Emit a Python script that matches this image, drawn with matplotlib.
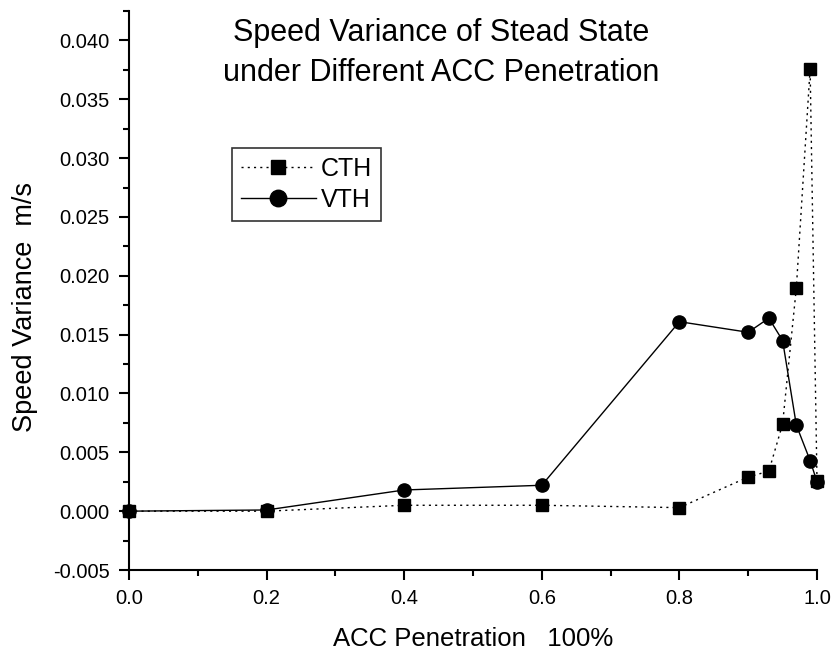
import numpy as np
import matplotlib.pyplot as plt
from matplotlib.ticker import MultipleLocator, FormatStrFormatter

plt.rcParams['font.family'] = ['Liberation Sans', 'DejaVu Sans']

# data
penetration = [0.0, 0.2, 0.4, 0.6, 0.8, 0.9, 0.93, 0.95, 0.97, 0.99, 1.0]
cth = [0.0, 0.0, 0.0005, 0.0005, 0.0003, 0.0029, 0.0034, 0.0074, 0.0190, 0.0376, 0.0026]
vth = [0.0, 0.0001, 0.0018, 0.0022, 0.0161, 0.0152, 0.0164, 0.0145, 0.0073, 0.0043, 0.0025]

fig = plt.figure(figsize=(8.37, 6.53), dpi=100)
ax = fig.add_axes([129/837, 1 - 570/653, (817 - 129)/837, (570 - 11)/653])

ax.plot(penetration, cth, color='black', linestyle=(0, (1.5, 3)), linewidth=1,
        marker='s', markersize=8, label='CTH', clip_on=False)
ax.plot(penetration, vth, color='black', linestyle='-', linewidth=1,
        marker='o', markersize=9.5, label='VTH', clip_on=False)

ax.set_xlim(0, 1.0)
ax.set_ylim(-0.005, 0.0425)

ax.xaxis.set_major_locator(MultipleLocator(0.2))
ax.xaxis.set_minor_locator(MultipleLocator(0.1))
ax.yaxis.set_major_locator(MultipleLocator(0.005))
ax.yaxis.set_minor_locator(MultipleLocator(0.0025))
ax.xaxis.set_major_formatter(FormatStrFormatter('%.1f'))
ax.yaxis.set_major_formatter(FormatStrFormatter('%.3f'))

ax.spines['top'].set_visible(False)
ax.spines['right'].set_visible(False)
for s in ['left', 'bottom']:
    ax.spines[s].set_linewidth(1.5)
ax.tick_params(which='major', direction='out', length=7, width=1.5, labelsize=14.5, pad=7)
ax.tick_params(which='minor', direction='out', length=4, width=1.5)

ax.set_xlabel('ACC Penetration   100%', fontsize=18.5, labelpad=13)
ax.set_ylabel('Speed Variance  m/s', fontsize=19.5)
ax.yaxis.set_label_coords((38 - 129)/688, (570 - 307)/559)

fig.text(0.527, 1 - 33/653, 'Speed Variance of Stead State', fontsize=22, ha='center', va='center')
fig.text(0.527, 1 - 73/653, 'under Different ACC Penetration', fontsize=22, ha='center', va='center')

leg = ax.legend(loc='upper left', bbox_to_anchor=((232 - 129)/688, (570 - 148)/559),
                frameon=True, fancybox=False, edgecolor='black', fontsize=18,
                handlelength=3.0, handletextpad=0.2, borderpad=0.35, labelspacing=0.28,
                borderaxespad=0, markerscale=1.25)
leg.get_frame().set_linewidth(1.2)

fig.savefig('out.png', dpi=100)
